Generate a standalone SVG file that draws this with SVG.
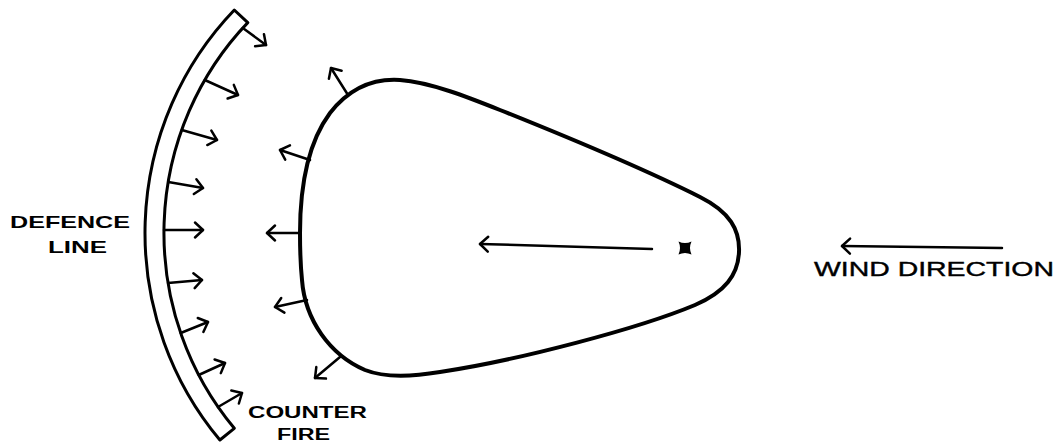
<svg xmlns="http://www.w3.org/2000/svg" width="1058" height="445" viewBox="0 0 1058 445">
<style>
.ln{fill:none;stroke:#000;stroke-linecap:round;stroke-linejoin:round}
.ar{stroke-width:2.5;marker-end:url(#head)}
.lbl{font-family:"Liberation Sans",Arial,sans-serif;font-weight:bold;fill:#000}
</style>
<defs>
<marker id="head" markerUnits="userSpaceOnUse" viewBox="-12 -10 14 20" markerWidth="14" markerHeight="20" refX="0" refY="0" orient="auto" overflow="visible">
<path d="M -8,-7.5 L 0,0 L -8,7.5" fill="none" stroke="#000" stroke-width="2.5" stroke-linecap="round" stroke-linejoin="round"/>
</marker>
</defs>
<rect width="1058" height="445" fill="#fff"/>
<g id="defence-line">
<path class="ln" d="M 234.3,10 A 311 318 0 0 0 219.9,440 L 234.3,428.3 A 292 300 0 0 1 247.8,22.6 Z" fill="#fff" stroke-width="3"/>
<text class="lbl" x="10" y="228" font-size="17" textLength="120" lengthAdjust="spacingAndGlyphs">DEFENCE</text>
<text class="lbl" x="48" y="253" font-size="17" textLength="59" lengthAdjust="spacingAndGlyphs">LINE</text>
</g>
<g id="fire">
<path class="ln" stroke-width="4" d="M 300,233 C 300,180 310,140 330,113 C 348,90 370,78 400,80 C 430,82 470,98 500,110 C 570,138 650,172 700,197 C 730,212 740,230 739,252 C 738,275 725,292 695,305 C 640,328 520,360 440,372 C 410,377 385,378 365,370 C 330,355 305,320 302,280 C 300,260 300,245 300,233 Z"/>
<path id="origin" d="M 678.5,241.5 Q 685,244.5 691.5,241.5 Q 688.5,248 691.5,254.5 Q 685,251.5 678.5,254.5 Q 681.5,248 678.5,241.5 Z" fill="#000"/>
</g>
<g id="counter-fire-label">
<text class="lbl" x="248" y="418" font-size="16" textLength="119" lengthAdjust="spacingAndGlyphs">COUNTER</text>
<text class="lbl" x="277" y="440" font-size="16" textLength="53" lengthAdjust="spacingAndGlyphs">FIRE</text>
</g>
<g id="wind-label">
<text x="814" y="276" font-family="Liberation Sans, Arial, sans-serif" font-size="21" textLength="240" lengthAdjust="spacingAndGlyphs" fill="#000" stroke="#000" stroke-width="0.4">WIND DIRECTION</text>
</g>
<g id="connectors">
<line class="ln ar" x1="242.8" y1="28" x2="266" y2="45"/>
<line class="ln ar" x1="204.8" y1="80" x2="238" y2="95"/>
<line class="ln ar" x1="181.8" y1="130" x2="217" y2="140"/>
<line class="ln ar" x1="168.3" y1="182" x2="203" y2="188"/>
<line class="ln ar" x1="164" y1="230" x2="203" y2="230"/>
<line class="ln ar" x1="168" y1="283" x2="202" y2="280"/>
<line class="ln ar" x1="180.7" y1="333" x2="208" y2="322"/>
<line class="ln ar" x1="198.7" y1="375" x2="225" y2="363"/>
<line class="ln ar" x1="218" y1="407" x2="242" y2="393"/>
<line class="ln ar" x1="348" y1="95" x2="331" y2="68"/>
<line class="ln ar" x1="310" y1="160" x2="280" y2="150"/>
<line class="ln ar" x1="300" y1="233" x2="267" y2="233"/>
<line class="ln ar" x1="307" y1="300" x2="275" y2="307"/>
<line class="ln ar" x1="340" y1="357" x2="315" y2="378"/>
<line class="ln ar" x1="652" y1="249" x2="480" y2="244" stroke-width="2"/>
<line class="ln ar" x1="1002" y1="248" x2="842" y2="246" stroke-width="2"/>
</g>
</svg>
